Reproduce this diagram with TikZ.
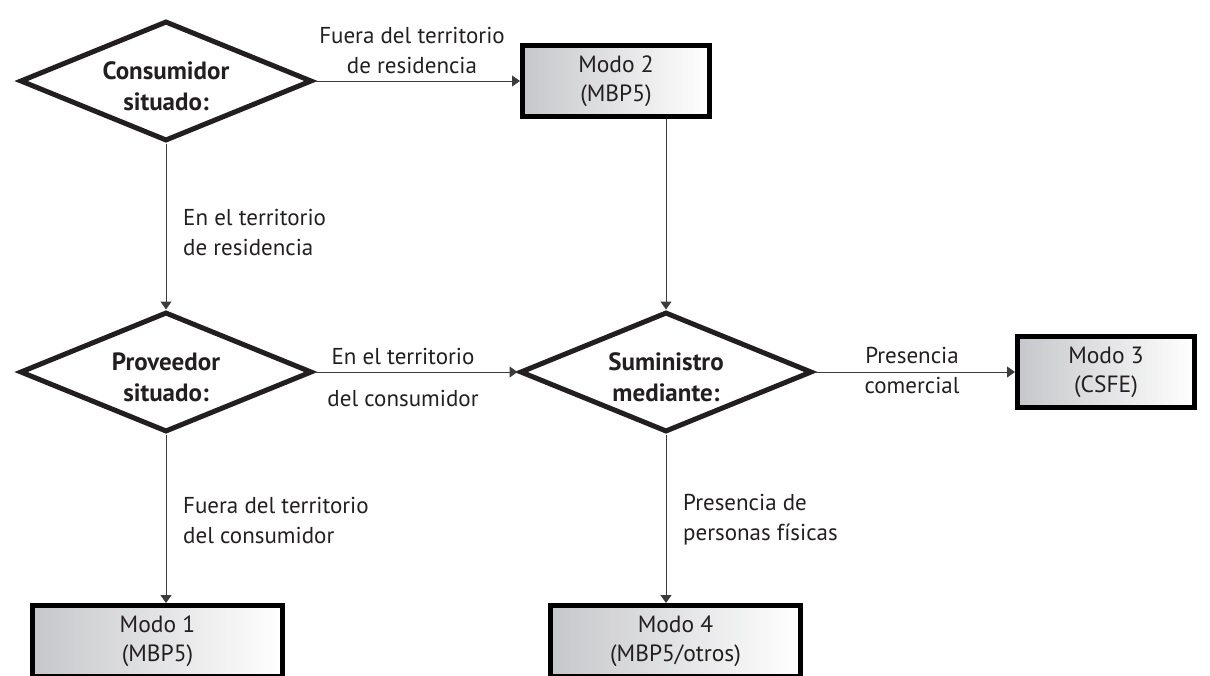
\documentclass[tikz,border=0pt]{standalone}
\usepackage{fontspec}
\setmainfont{PT Sans}
\usetikzlibrary{shapes.geometric,arrows.meta}
\definecolor{ink}{RGB}{35,31,32}
\definecolor{wire}{RGB}{60,60,60}
\definecolor{boxgray}{RGB}{198,199,202}
\begin{document}
\begin{tikzpicture}[x=1pt,y=-1pt,
  decision/.style={diamond, draw=ink, line width=5pt, minimum width=292pt, minimum height=120pt, inner sep=0pt, shape aspect=2.43, align=center, font=\fontsize{25}{31}\selectfont\bfseries, text=ink, text height=59pt, text depth=0pt},
  modebox/.style={rectangle, draw=black, line width=5pt, left color=boxgray, right color=white, minimum height=71pt, inner sep=0pt, align=center, font=\fontsize{23.5}{29}\selectfont, text=ink},
  conn/.style={draw=wire, line width=1pt, -{Triangle[length=8pt,width=11pt]}},
  lbl/.style={font=\fontsize{23}{30}\selectfont, text=ink, align=center, inner sep=0pt}
]
\useasboundingbox (0,0) rectangle (1210,675);
\node[decision] (d1) at (166,81) {Consumidor\\situado:};
\node[decision] (d2) at (166,372) {Proveedor\\situado:};
\node[decision] (d3) at (666,372) {Suministro\\mediante:};
\node[modebox, minimum width=187pt] (m2) at (616,81) {Modo 2\\(MBP5)};
\node[modebox, minimum width=177pt] (m3) at (1106,372) {Modo 3\\(CSFE)};
\node[modebox, minimum width=250pt] (m1) at (157.5,641) {Modo 1\\(MBP5)};
\node[modebox, minimum width=250pt] (m4) at (675.5,641) {Modo 4\\(MBP5/otros)};
\coordinate (m2out) at (d3.north |- m2.south);
\draw[conn] (d1.east) -- (m2.west);
\draw[conn] (d1.south) -- (d2.north);
\draw[conn] (m2out) -- (d3.north);
\draw[conn] (d2.east) -- (d3.west);
\draw[conn] (d3.east) -- (m3.west);
\draw[conn] (d2.south) -- (d2.south |- m1.north);
\draw[conn] (d3.south) -- (d3.south |- m4.north);
\node[lbl] (l1) at (412,50) {Fuera del territorio\\de residencia};
\node[lbl, anchor=west, align=left] (l2) at (183,232) {En el territorio\\de residencia};
\node[lbl] (l3a) at (403,356) {En el territorio};
\node[lbl] (l3b) at (403,398) {del consumidor};
\node[lbl] (l4) at (912,370) {Presencia\\comercial};
\node[lbl, anchor=west, align=left] (l5) at (183,520) {Fuera del territorio\\del consumidor};
\node[lbl, anchor=west, align=left] (l6) at (683,520) {Presencia de\\personas físicas};
\end{tikzpicture}
\end{document}
